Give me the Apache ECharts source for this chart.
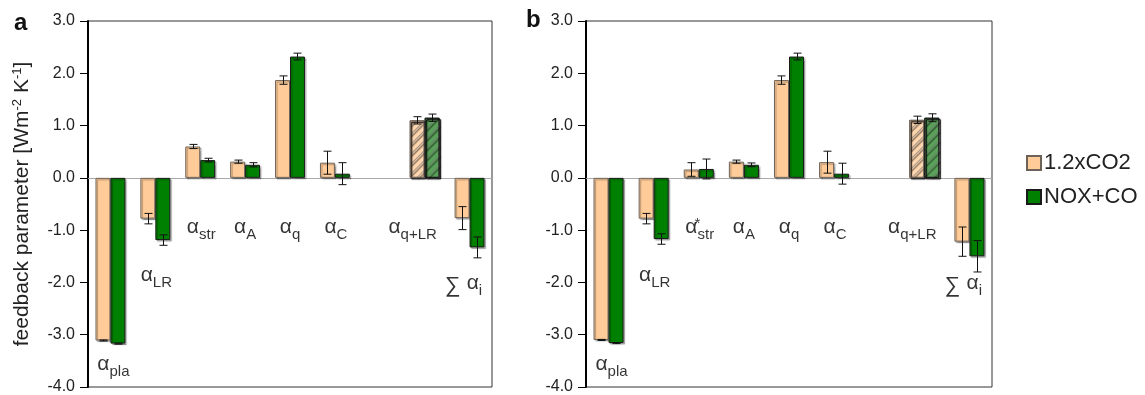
<!DOCTYPE html>
<html><head><meta charset="utf-8">
<script src="https://cdn.jsdelivr.net/npm/echarts@6/dist/echarts.min.js"></script>
<style>html,body{margin:0;padding:0;background:#fff}#c{width:1145px;height:395px}</style>
</head><body><div id="c"></div>
<script>
// ---- data ----
const categories = ['pla', 'LR', 'str', 'A', 'q', 'C', '', 'q+LR', 'sum'];
const seriesNames = ['1.2xCO2', 'NOX+CO'];
// panel a
const co2A    = [-3.11, -0.78, 0.60, 0.31, 1.87, 0.29, null, 1.10, -0.77];
const co2ErrA = [0.01, 0.10, 0.04, 0.03, 0.08, 0.22, null, 0.07, 0.22];
const noxA    = [-3.17, -1.19, 0.34, 0.25, 2.32, 0.08, null, 1.15, -1.33];
const noxErrA = [0.01, 0.10, 0.035, 0.04, 0.065, 0.21, null, 0.07, 0.20];
// panel b
const co2B    = [-3.10, -0.78, 0.16, 0.31, 1.87, 0.30, null, 1.11, -1.22];
const co2ErrB = [0.01, 0.10, 0.13, 0.03, 0.08, 0.21, null, 0.07, 0.28];
const noxB    = [-3.16, -1.17, 0.17, 0.25, 2.32, 0.08, null, 1.15, -1.50];
const noxErrB = [0.01, 0.10, 0.19, 0.035, 0.065, 0.20, null, 0.075, 0.30];
// category label texts (rich text)
const catLabelsA = ['{a|α}{s|pla}', '{a|α}{s|LR}', '{a|α}{s|str}', '{a|α}{s|A}', '{a|α}{s|q}', '{a|α}{s|C}', '', '{a|α}{s|q+LR}', '{g|∑ }{a|α}{s|i}'];
const catLabelsB = ['{a|α}{s|pla}', '{a|α}{s|LR}', '{a|α}{st|*}{s|str}', '{a|α}{s|A}', '{a|α}{s|q}', '{a|α}{s|C}', '', '{a|α}{s|q+LR}', '{g|∑ }{a|α}{s|i}'];
const yMin = -4, yMax = 3, yInterval = 1;
const hatchedIndex = 7;

// ---- layout / style ----
const FONT = '"Liberation Sans", Arial, sans-serif';
const labelY = [-3.66, -1.96, -1.03, -1.03, -1.03, -1.03, null, -1.03, -2.1];
const labelDX = [3, 1, 1, 0, 0, 1, 0, -12, -6];
const ORANGE = '#FFCC99', GREEN = '#008000';
const ORANGE_H = '#FFD6AE', GREEN_H = '#5AA25A';

const rich = {
  a: {fontSize: 21, lineHeight: 21, fontFamily: FONT, color: '#000', padding: [0, 0, 5, 0], verticalAlign: 'bottom'},
  s: {fontSize: 15, lineHeight: 15, fontFamily: FONT, color: '#000', verticalAlign: 'bottom'},
  st: {fontSize: 15, lineHeight: 15, fontFamily: FONT, color: '#000', width: 0.1, padding: [0, 0, 11, 0], verticalAlign: 'bottom'},
  g: {fontSize: 22, lineHeight: 22, fontFamily: FONT, color: '#000', padding: [0, 0, 2, 0], verticalAlign: 'bottom'}
};

function barData(vals, base, hatch) {
  return vals.map((v, i) => {
    if (v === null) return '-';
    if (i === hatchedIndex) {
      return {value: v, itemStyle: {color: hatch, decal: {symbol: 'rect', color: 'rgba(115,115,115,0.65)', dashArrayX: [1, 0], dashArrayY: [1, 5.5], rotation: -Math.PI / 4, symbolSize: 1}}};
    }
    return v;
  });
}
function errData(vals, errs) {
  const out = [];
  vals.forEach((v, i) => { if (v !== null) out.push([i, v - errs[i], v + errs[i]]); });
  return out;
}
function errRender(sign) {
  return function (params, api) {
    const x = api.value(0);
    const lo = api.coord([x, api.value(1)]);
    const hi = api.coord([x, api.value(2)]);
    const bw = api.size([1, 0])[0] / 3;
    const cx = Math.round(lo[0] + sign * bw / 2) + 0.5;
    const cap = 4;
    const st = {stroke: '#111', lineWidth: 1};
    return {type: 'group', children: [
      {type: 'line', shape: {x1: cx, y1: lo[1], x2: cx, y2: hi[1]}, style: st},
      {type: 'line', shape: {x1: cx - cap, y1: lo[1], x2: cx + cap, y2: lo[1]}, style: st},
      {type: 'line', shape: {x1: cx - cap, y1: hi[1], x2: cx + cap, y2: hi[1]}, style: st}
    ]};
  };
}
function labelData(texts) {
  const out = [];
  texts.forEach((t, i) => {
    if (!t) return;
    out.push({value: [i, labelY[i]], label: {formatter: t, offset: [labelDX[i], 0]}});
  });
  return out;
}

const grids = [
  {left: 88, top: 21, width: 404, height: 366, show: true, borderColor: '#333', borderWidth: 1, containLabel: false},
  {left: 586, top: 21, width: 406, height: 366, show: true, borderColor: '#333', borderWidth: 1, containLabel: false}
];
function xAxis(gi) {
  return {type: 'category', gridIndex: gi, data: categories, axisLabel: {show: false}, axisTick: {show: false},
    axisLine: {onZero: true, lineStyle: {color: '#aaa', width: 1}}, splitLine: {show: false}};
}
function yAxis(gi, withName) {
  const ax = {type: 'value', gridIndex: gi, min: yMin, max: yMax, interval: yInterval,
    axisLine: {show: true, lineStyle: {color: '#000', width: 2}},
    axisTick: {show: true, length: 8, lineStyle: {color: '#000', width: 1}},
    axisLabel: {fontSize: 16, fontFamily: FONT, color: '#222', margin: 13, formatter: v => v.toFixed(1)},
    splitLine: {show: false}};
  if (withName) {
    ax.name = 'feedback parameter [Wm{sup|-2} K{sup|-1}]';
    ax.nameLocation = 'middle';
    ax.nameGap = 55;
    ax.nameTextStyle = {fontSize: 21, fontFamily: FONT, color: '#222',
      rich: {sup: {fontSize: 13, fontFamily: FONT, color: '#222', padding: [0, 0, 9, 0], verticalAlign: 'bottom'}}};
  }
  return ax;
}
const barStyle = (c, b) => ({color: c, borderColor: b, borderWidth: 1, shadowColor: 'rgba(0,0,0,0.3)', shadowOffsetX: 1.5, shadowOffsetY: 1.5, shadowBlur: 1});

function panelSeries(gi, co2, co2Err, nox, noxErr, labels) {
  return [
    {name: seriesNames[0], type: 'bar', xAxisIndex: gi, yAxisIndex: gi, data: barData(co2, ORANGE, ORANGE_H),
      barWidth: '33.3%', barGap: '0%', itemStyle: barStyle(ORANGE, '#6d6258'), emphasis: {disabled: true}},
    {name: seriesNames[1], type: 'bar', xAxisIndex: gi, yAxisIndex: gi, data: barData(nox, GREEN, GREEN_H),
      barWidth: '33.3%', barGap: '0%', itemStyle: barStyle(GREEN, '#1a1a1a'), emphasis: {disabled: true}},
    {type: 'custom', xAxisIndex: gi, yAxisIndex: gi, renderItem: errRender(-1), data: errData(co2, co2Err), encode: {x: 0, y: [1, 2]}, z: 5, silent: true},
    {type: 'custom', xAxisIndex: gi, yAxisIndex: gi, renderItem: errRender(1), data: errData(nox, noxErr), encode: {x: 0, y: [1, 2]}, z: 5, silent: true},
    {type: 'scatter', xAxisIndex: gi, yAxisIndex: gi, symbolSize: 0, silent: true, z: 6,
      label: {show: true, position: 'inside', rich: rich, color: '#000'}, data: labelData(labels)}
  ];
}

const chart = echarts.init(document.getElementById('c'), null, {renderer: 'canvas'});
chart.setOption({
  animation: false,
  textStyle: {fontFamily: FONT},
  grid: grids,
  xAxis: [xAxis(0), xAxis(1)],
  yAxis: [yAxis(0, true), yAxis(1, false)],
  title: [
    {text: 'a', left: 14, top: 11, padding: 0, textStyle: {fontSize: 24, fontWeight: 'bold', fontFamily: FONT, color: '#111'}},
    {text: 'b', left: 526, top: 8, padding: 0, textStyle: {fontSize: 24, fontWeight: 'bold', fontFamily: FONT, color: '#111'}}
  ],
  legend: {data: seriesNames, orient: 'vertical', left: 1026, top: 152, icon: 'rect', itemWidth: 14, itemHeight: 14, itemGap: 12,
    padding: 0, textStyle: {fontSize: 22, fontFamily: FONT, color: '#222', padding: [0, 0, 0, -2]}, selectedMode: false},
  series: [].concat(panelSeries(0, co2A, co2ErrA, noxA, noxErrA, catLabelsA), panelSeries(1, co2B, co2ErrB, noxB, noxErrB, catLabelsB))
});
</script>
</body></html>
